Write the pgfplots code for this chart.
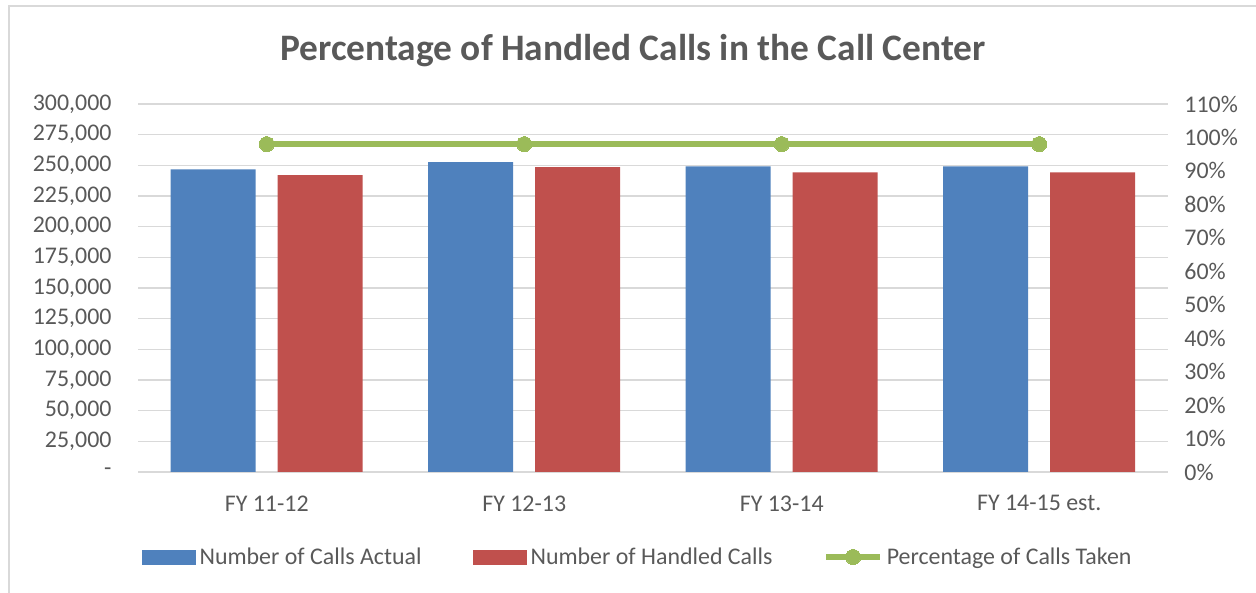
\documentclass[border=0pt]{standalone}
\usepackage{pgfplots}
\pgfplotsset{compat=1.18}
\usepackage{fontspec}
\setmainfont{Carlito}
\definecolor{cblue}{HTML}{4F81BD}
\definecolor{cred}{HTML}{C0504D}
\definecolor{cgreen}{HTML}{9BBB59}
\definecolor{ctext}{HTML}{595959}
\definecolor{cgrid}{HTML}{D9D9D9}
\pgfplotsset{
  mybar legend/.style={legend image code/.code={\fill[##1, draw=none] (0bp,-7.5bp) rectangle (54bp,7.5bp);}},
  myline legend/.style={legend image code/.code={\draw[mark repeat=2,mark phase=2,##1] plot coordinates {(0bp,0bp) (27bp,0bp) (54bp,0bp)};}},
}
\begin{document}
\begin{tikzpicture}[x=1bp,y=1bp]
\useasboundingbox (0,0) rectangle (1256,593);
\draw[cgrid, line width=1.5bp] (9,-5) rectangle (1265,587);
\node[font=\fontsize{37.5}{46}\selectfont\bfseries, text=ctext] at (633,542) {Percentage of Handled Calls in the Call Center};
\begin{axis}[at={(138bp,121bp)}, anchor=south west, scale only axis,
  width=1030bp, height=368bp,
  ybar=22bp, bar width=85bp,
  xmin=-0.5, xmax=3.5, ymin=0, ymax=300000,
  scaled y ticks=false,
  xtick={0,1,2,3}, xticklabels={FY 11-12, FY 12-13, FY 13-14, FY 14-15 est.},
  ytick={0,25000,50000,75000,100000,125000,150000,175000,200000,225000,250000,275000,300000},
  yticklabels={{-},{25,000},{50,000},{75,000},{100,000},{125,000},{150,000},{175,000},{200,000},{225,000},{250,000},{275,000},{300,000}},
  separate axis lines,
  x axis line style={cgrid, line width=1.5bp},
  y axis line style={draw=none},
  axis x line*=bottom, axis y line*=left,
  major tick length=0pt,
  ymajorgrids, grid style={cgrid, line width=1.2bp},
  tick label style={font=\fontsize{24}{28}\selectfont, text=ctext},
  /pgf/number format/assume math mode=true,
  yticklabel style={xshift=-23bp},
  xticklabel style={yshift=-20bp},
]
\addplot[fill=cblue, draw=none] coordinates {(0,246700) (1,252700) (2,249200) (3,249200)};
\addplot[fill=cred, draw=none] coordinates {(0,242100) (1,248600) (2,244300) (3,244300)};
\end{axis}
\begin{axis}[at={(138bp,121bp)}, anchor=south west, scale only axis,
  width=1030bp, height=368bp,
  xmin=-0.5, xmax=3.5, ymin=0, ymax=110,
  axis x line=none, axis y line*=right,
  y axis line style={draw=none},
  major tick length=0pt,
  ytick={0,10,...,110},
  yticklabel={\pgfmathprintnumber{\tick}\%},
  tick label style={font=\fontsize{24}{28}\selectfont, text=ctext},
  /pgf/number format/assume math mode=true,
  yticklabel style={xshift=13bp},
  legend columns=3,
  legend style={at={(0.485,-0.231)}, anchor=center, draw=none, fill=none,
    font=\fontsize{24}{28}\selectfont, text=ctext,
    /tikz/every odd column/.append style={column sep=2bp},
    /tikz/every even column/.append style={column sep=49bp}},
]
\addlegendimage{mybar legend, fill=cblue}
\addlegendentry{Number of Calls Actual}
\addlegendimage{mybar legend, fill=cred}
\addlegendentry{Number of Handled Calls}
\addplot[cgreen, line width=5.3bp, mark=*, mark size=7.5bp, mark options={fill=cgreen, draw=cgreen, line width=0pt}, myline legend] coordinates {(0,98) (1,98) (2,98) (3,98)};
\addlegendentry{Percentage of Calls Taken}
\end{axis}
\end{tikzpicture}
\end{document}
